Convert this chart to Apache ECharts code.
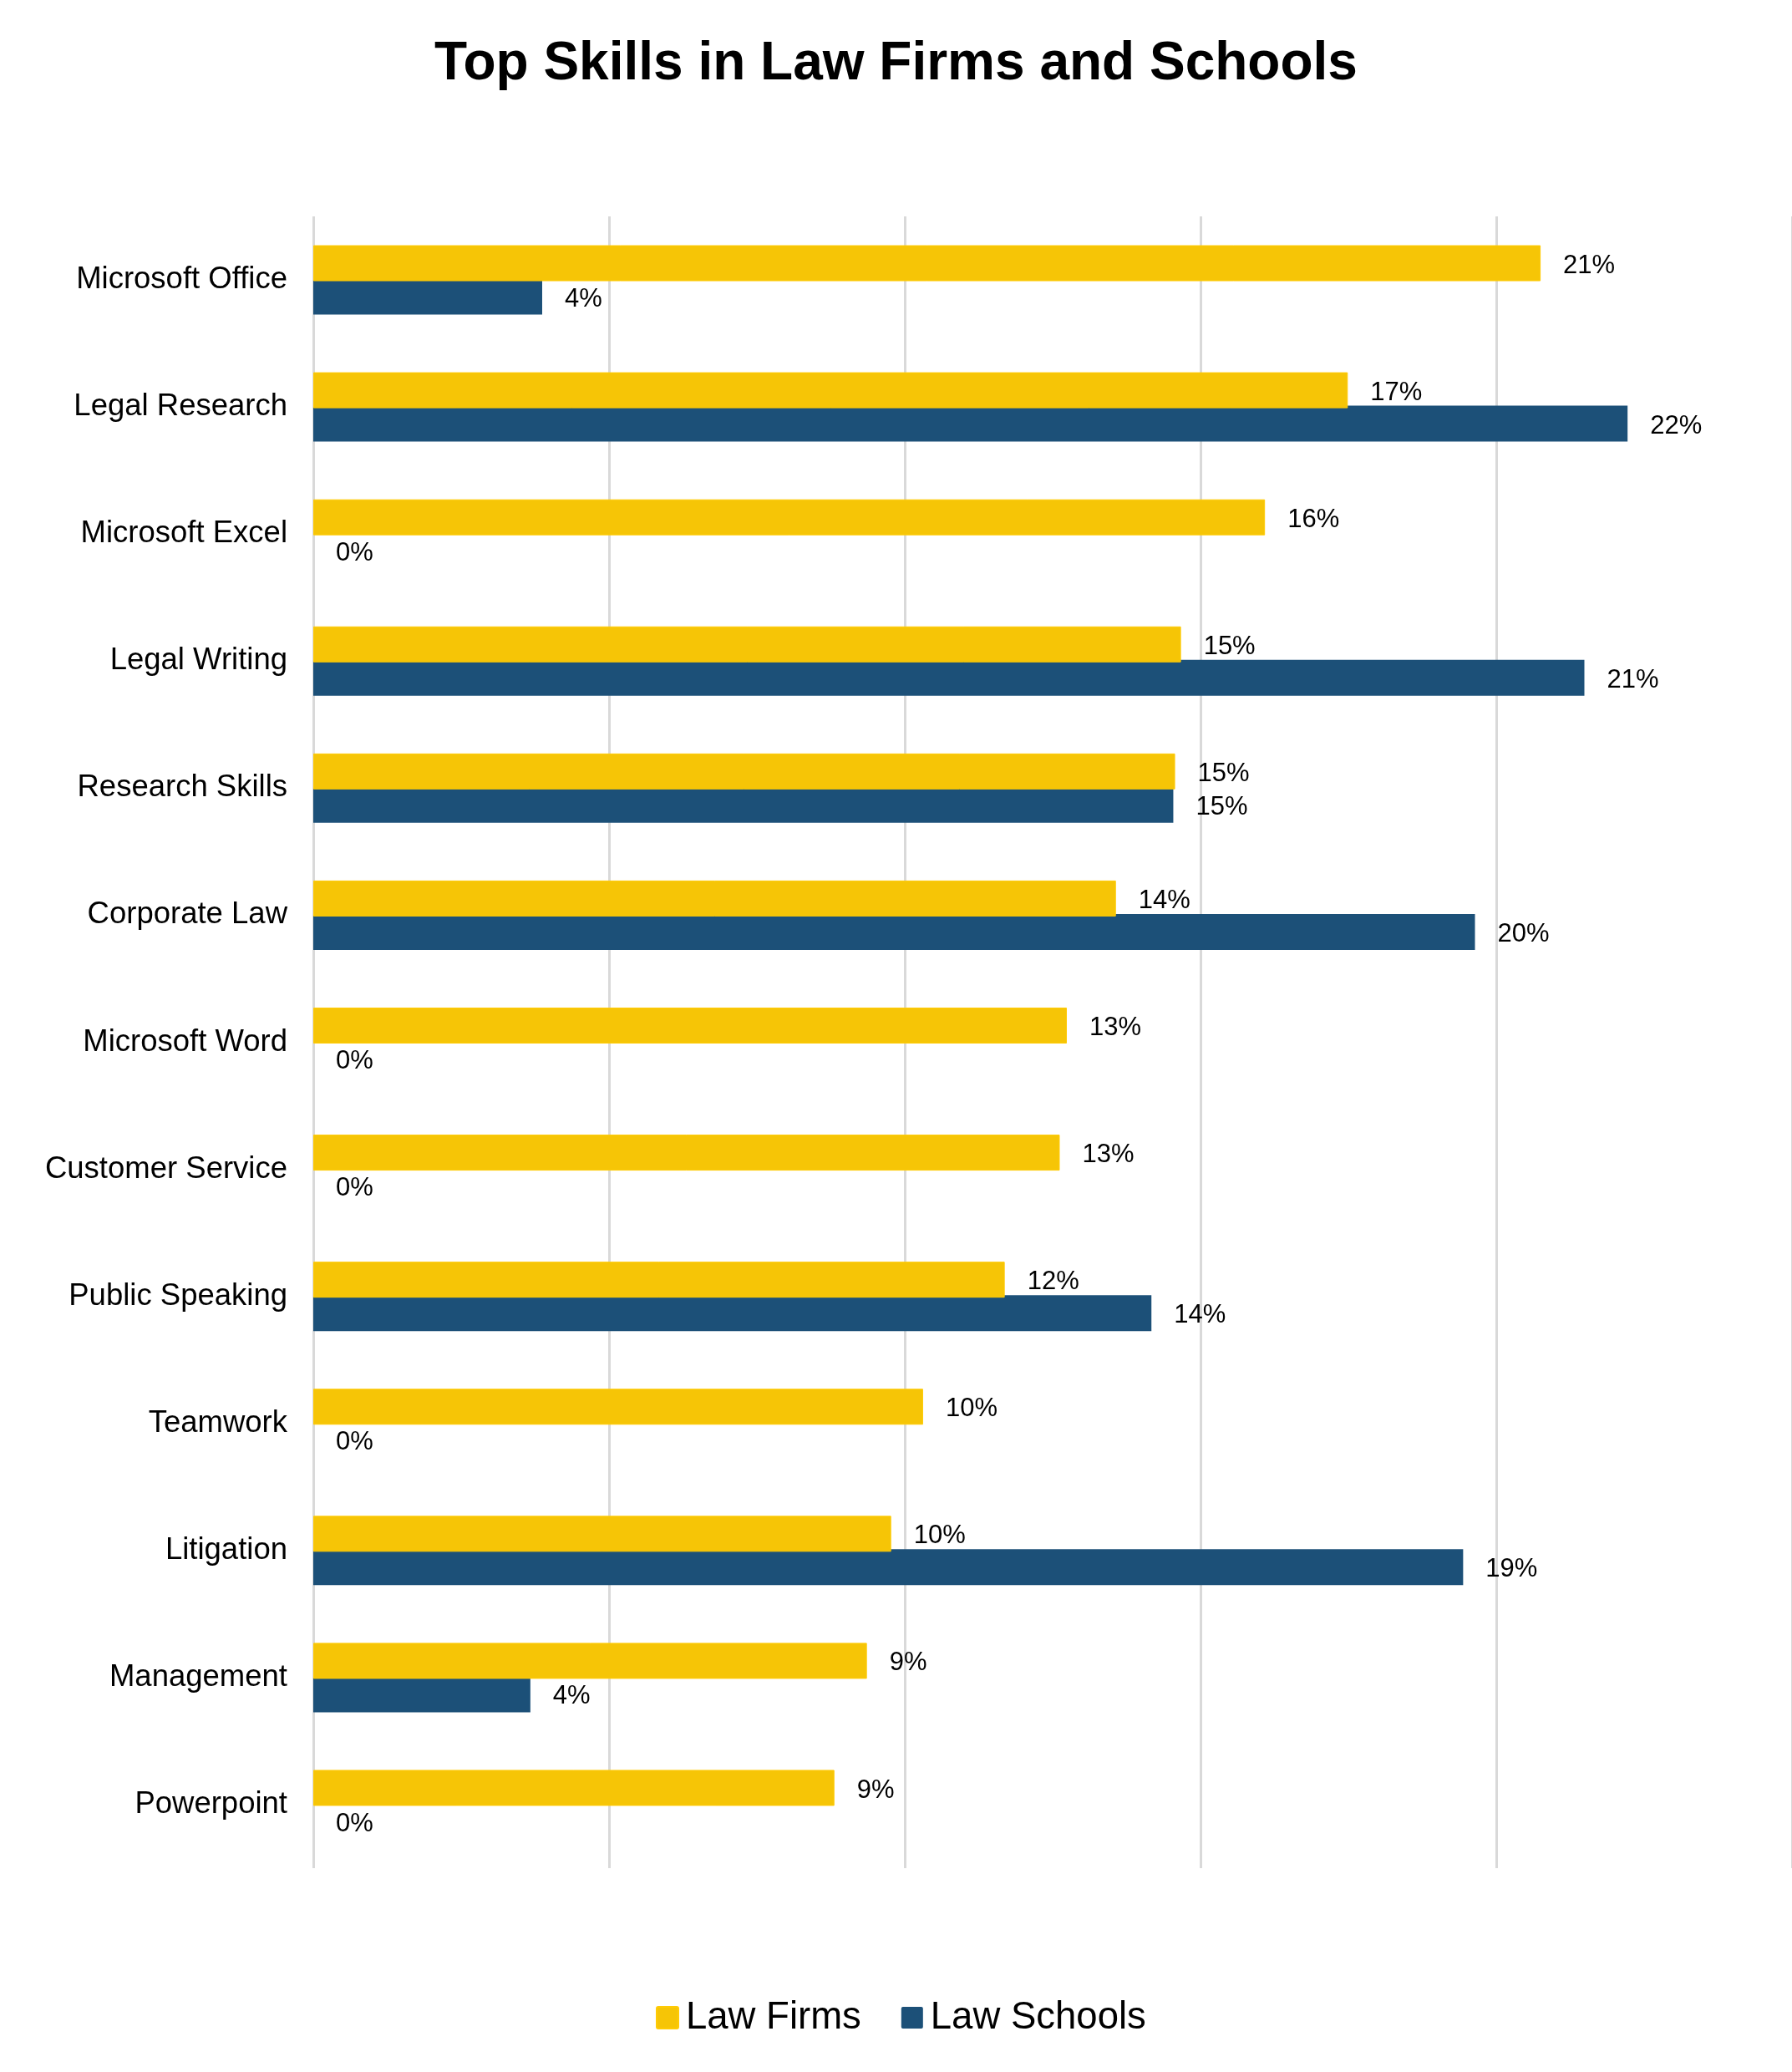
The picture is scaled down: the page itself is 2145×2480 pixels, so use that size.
<!DOCTYPE html>
<html>
<head>
<meta charset="utf-8">
<title>Top Skills in Law Firms and Schools</title>
<script src="https://cdn.jsdelivr.net/npm/echarts@6/dist/echarts.min.js"></script>
<style>
  html, body { margin: 0; padding: 0; background: #fff; }
  #main { width: 2145px; height: 2480px; }
</style>
</head>
<body>
<div id="main"></div>
<script>
var skills = ['Microsoft Office', 'Legal Research', 'Microsoft Excel', 'Legal Writing', 'Research Skills', 'Corporate Law',
  'Microsoft Word', 'Customer Service', 'Public Speaking', 'Teamwork', 'Litigation', 'Management', 'Powerpoint'];
// percent values, the printed labels are these rounded
var lawFirms = [20.75, 17.49, 16.09, 14.67, 14.57, 13.57, 12.74, 12.62, 11.69, 10.31, 9.77, 9.36, 8.81];
var lawSchools = [3.87, 22.22, 0, 21.49, 14.54, 19.64, 0, 0, 14.17, 0, 19.44, 3.67, 0];

var FONT = '"Liberation Sans", Arial, sans-serif';

var chart = echarts.init(document.getElementById('main'));

function barLabel() {
  return {
    show: true,
    position: 'right',
    distance: 27,
    offset: [0, 3],
    color: '#000',
    fontFamily: FONT,
    fontSize: 31,
    formatter: function (p) { return Math.round(p.value) + '%'; }
  };
}

var option = {
  backgroundColor: '#fff',
  animation: false,
  title: {
    text: 'Top Skills in Law Firms and Schools',
    left: 'center',
    top: 40,
    textStyle: { color: '#000', fontFamily: FONT, fontWeight: 'bold', fontSize: 64 }
  },
  legend: {
    left: 785,
    top: 2392,
    padding: 0,
    icon: 'path://M2 0H24Q26 0 26 2V24Q26 26 24 26H2Q0 26 0 24V2Q0 0 2 0Z',
    itemWidth: 26,
    itemHeight: 26,
    itemGap: 48,
    textStyle: { color: '#000', fontFamily: FONT, fontSize: 45.5, padding: [0, 0, 0, 4] },
    data: ['Law Firms', 'Law Schools']
  },
  grid: { left: 375, right: 0, top: 259, bottom: 244, containLabel: false },
  xAxis: {
    type: 'value',
    min: 0,
    max: 25,
    interval: 5,
    axisLine: { show: false },
    axisTick: { show: false },
    axisLabel: { show: false },
    splitLine: { show: true, lineStyle: { color: '#D9D9D9', width: 3 } }
  },
  yAxis: {
    type: 'category',
    inverse: true,
    data: skills,
    axisLine: { show: false },
    axisTick: { show: false },
    axisLabel: { color: '#000', fontFamily: FONT, fontSize: 36.5, margin: 31, padding: [5, 0, 0, 0] }
  },
  series: [
    {
      name: 'Law Firms',
      type: 'bar',
      z: 3,
      data: lawFirms,
      barWidth: 43,
      barGap: '-7%',
      itemStyle: { color: '#F6C506', borderColor: '#FFCB05', borderWidth: 1 },
      label: barLabel()
    },
    {
      name: 'Law Schools',
      type: 'bar',
      z: 2,
      data: lawSchools,
      barWidth: 43,
      barGap: '-7%',
      itemStyle: { color: '#1C5078' },
      label: barLabel()
    }
  ]
};

chart.setOption(option);
</script>
</body>
</html>
